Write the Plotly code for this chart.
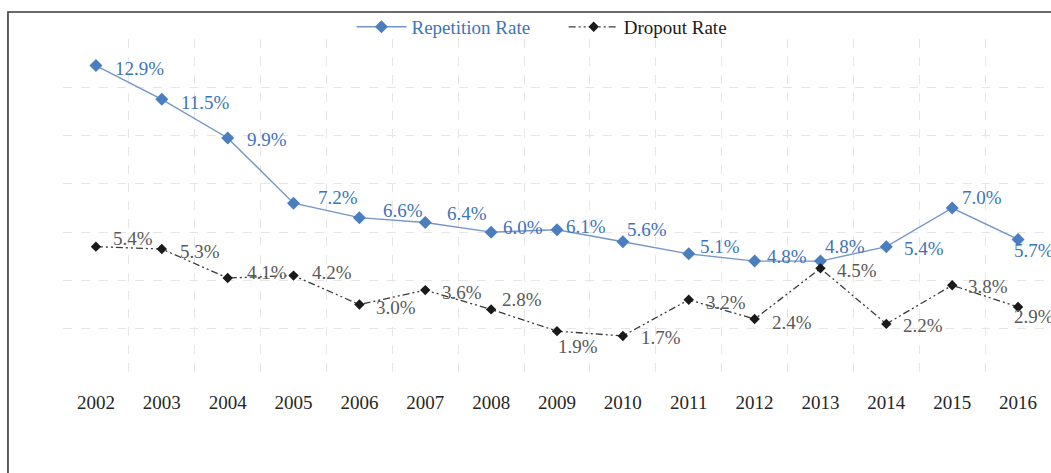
import plotly.graph_objects as go

years = ["2002", "2003", "2004", "2005", "2006", "2007", "2008", "2009",
         "2010", "2011", "2012", "2013", "2014", "2015", "2016"]
repetition = [0.129, 0.115, 0.099, 0.072, 0.066, 0.064, 0.060, 0.061,
              0.056, 0.051, 0.048, 0.048, 0.054, 0.070, 0.057]
dropout = [0.054, 0.053, 0.041, 0.042, 0.030, 0.036, 0.028, 0.019,
           0.017, 0.032, 0.024, 0.045, 0.022, 0.038, 0.029]

# label offsets in pixels (dx right, dy down) relative to each point
rep_off = [(44, 3), (44, 3), (39, 2), (44, -6), (44, -7), (42, -9), (32, -5), (29, -3),
           (24, -12), (31, -7), (32, -5), (25, -15), (38, 2), (30, -11), (16, 11)]
drop_off = [(37, -8), (38, 2), (39, -6), (38, -3), (37, 3), (37, 2), (31, -10), (21, 15),
            (38, 2), (37, 3), (37, 3), (37, 2), (37, 2), (36, 1), (16, 10)]

BLUE_M = "#4a7ebf"
BLUE_L = "#7396c8"
BLUE_T = "#3c74ba"
GRAY_T = "#595959"
FONT = "Liberation Serif"
NB = "\u00a0"

fig = go.Figure()
fig.add_trace(go.Scatter(
    x=years, y=repetition, mode="lines+markers",
    name="<span style='color:%s'>Repetition Rate</span>%s" % (BLUE_T, NB * 6),
    line=dict(color=BLUE_L, width=1.4),
    marker=dict(symbol="diamond", size=10, color=BLUE_M),
))
fig.add_trace(go.Scatter(
    x=years, y=dropout, mode="lines+markers",
    name="<span style='color:#1a1a1a'>Dropout Rate</span>",
    line=dict(color="#3a3a3a", width=1.3, dash="7px,3px,2px,3px,2px,3px"),
    marker=dict(symbol="diamond", size=8, color="#1a1a1a"),
))

annotations = []
for i, (v, (dx, dy)) in enumerate(zip(repetition, rep_off)):
    annotations.append(dict(x=i, y=v, xref="x", yref="y", text="%.1f%%" % (v * 100),
                            showarrow=False, xshift=dx, yshift=-dy,
                            font=dict(family=FONT, size=19, color=BLUE_T)))
for i, (v, (dx, dy)) in enumerate(zip(dropout, drop_off)):
    annotations.append(dict(x=i, y=v, xref="x", yref="y", text="%.1f%%" % (v * 100),
                            showarrow=False, xshift=dx, yshift=-dy,
                            font=dict(family=FONT, size=19, color=GRAY_T)))

# partially cropped figure caption at the very top
annotations.append(dict(
    x=0.475, y=1.152, xref="paper", yref="paper", xanchor="center", yanchor="middle",
    text="<span style='color:%s'><b>Figure 3:</b></span> <b>Trends in Repetition and Dropout Rates (2002-2016)</b>" % BLUE_T,
    showarrow=False, font=dict(family=FONT, size=22, color="#1a1a1a")))

fig.update_layout(
    width=1051, height=473,
    margin=dict(l=63, r=0, t=39, b=96, autoexpand=False),
    paper_bgcolor="white", plot_bgcolor="white",
    font=dict(family=FONT, size=19, color="#262626"),
    showlegend=True,
    legend=dict(orientation="h", xref="container", yref="container",
                x=0.3344, xanchor="left", y=0.943, yanchor="middle",
                font=dict(family=FONT, size=19), bgcolor="rgba(0,0,0,0)",
                itemwidth=50, tracegroupgap=0),
    annotations=annotations,
    shapes=[dict(type="rect", xref="paper", yref="paper",
                 x0=-0.0557, x1=1.05, y0=-0.5, y1=1.0799,
                 line=dict(color="#3a3a3a", width=1.6), fillcolor="rgba(0,0,0,0)",
                 layer="above")],
)
fig.update_xaxes(type="category", range=[-0.5, 14.5], autorange=False,
                 tickson="boundaries", showgrid=True,
                 gridcolor="#e6e6e6", griddash="dash", gridwidth=1,
                 showline=False, zeroline=False, ticks="", ticklabelstandoff=12,
                 tickangle=0,
                 tickfont=dict(family=FONT, size=19, color="#262626"))
fig.update_yaxes(range=[0, 0.14], autorange=False, dtick=0.02, tick0=0, showticklabels=False,
                 showgrid=True, gridcolor="#e6e6e6", griddash="dash", gridwidth=1,
                 zeroline=False, showline=False, ticks="")

fig.write_html("out.html", config={"displayModeBar": False},
               post_script="document.body.style.margin='0';document.body.style.overflow='hidden';")
